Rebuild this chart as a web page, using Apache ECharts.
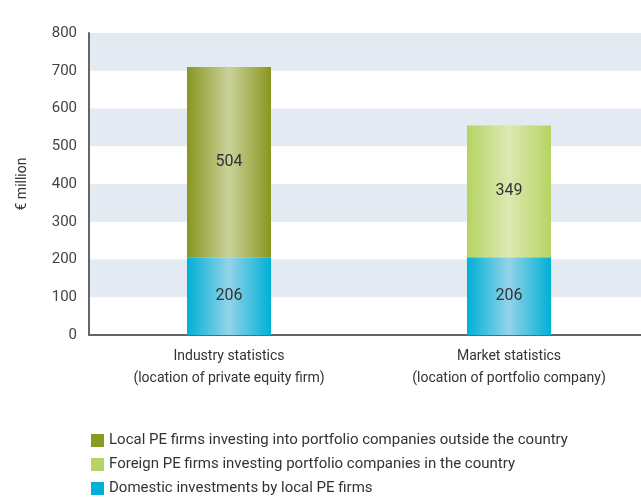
<!DOCTYPE html>
<html>
<head>
<meta charset="utf-8">
<script src="https://cdn.jsdelivr.net/npm/echarts@6/dist/echarts.min.js"></script>
<style>
  html, body { margin: 0; padding: 0; background: #fff; }
  #chart { width: 641px; height: 504px; }
</style>
</head>
<body>
<div id="chart"></div>
<script>
const categories = [
  "Industry statistics\n(location of private equity firm)",
  "Market statistics\n(location of portfolio company)"
];
const domestic = [206, 206];
const localOutside = [504, "-"];
const foreignIn = ["-", 349];
const yTicks = [0, 100, 200, 300, 400, 500, 600, 700, 800];

const FONT = "'Liberation Sans Narrow', 'Roboto', sans-serif";

// horizontal gradient: darker edges, pale centre (cylinder look)
function tube(edge, mid) {
  return new echarts.graphic.LinearGradient(0, 0, 1, 0, [
    { offset: 0, color: edge },
    { offset: 0.5, color: mid },
    { offset: 1, color: edge }
  ]);
}

const chart = echarts.init(document.getElementById("chart"));
const labelStyle = { show: true, position: "inside", color: "#333", fontSize: 16, fontFamily: FONT };

const option = {
  animation: false,
  grid: { left: 89, width: 560, top: 33, bottom: 169, outerBoundsMode: "none" },
  legend: {
    orient: "vertical",
    left: 86,
    top: 428,
    height: 90,
    itemWidth: 13,
    itemHeight: 13,
    itemGap: 9,
    icon: "rect",
    textStyle: { color: "#333", fontSize: 15, fontFamily: FONT },
    data: [
      { name: "Local PE firms investing into portfolio companies outside the country", itemStyle: { color: "#8a9a1e" } },
      { name: "Foreign PE firms investing portfolio companies in the country", itemStyle: { color: "#b5d465" } },
      { name: "Domestic investments by local PE firms", itemStyle: { color: "#00b0d8" } }
    ]
  },
  xAxis: {
    type: "category",
    data: categories,
    axisLine: { lineStyle: { color: "#666", width: 2 } },
    axisTick: { show: false },
    axisLabel: { color: "#333", fontSize: 14, lineHeight: 22, margin: 10, fontFamily: FONT }
  },
  yAxis: {
    type: "value",
    min: 0,
    max: 800,
    interval: 100,
    name: "€ million",
    nameLocation: "middle",
    nameRotate: 90,
    nameGap: 60,
    nameTextStyle: { color: "#333", fontSize: 14, fontFamily: FONT },
    axisLine: { show: true, lineStyle: { color: "#666", width: 2 } },
    axisTick: { show: false },
    splitLine: { show: false },
    splitArea: { show: true, areaStyle: { color: ["rgba(255,255,255,0)", "#e4eaf2"] } },
    axisLabel: {
      color: "#444", fontSize: 15, margin: 12, fontFamily: FONT,
      formatter: v => yTicks.includes(v) ? String(v) : ""
    }
  },
  series: [
    {
      name: "Domestic investments by local PE firms",
      type: "bar", stack: "t", barWidth: 84,
      data: domestic,
      itemStyle: { color: tube("#00b0d6", "#93d3e8") },
      label: labelStyle
    },
    {
      name: "Local PE firms investing into portfolio companies outside the country",
      type: "bar", stack: "t", barWidth: 84,
      data: localOutside,
      itemStyle: { color: tube("#8a9620", "#c9d29a") },
      label: labelStyle
    },
    {
      name: "Foreign PE firms investing portfolio companies in the country",
      type: "bar", stack: "t", barWidth: 84,
      data: foreignIn,
      itemStyle: { color: tube("#b5d462", "#dde9b2") },
      label: labelStyle
    }
  ]
};
chart.setOption(option);
window.addEventListener("resize", () => chart && chart.resize());
</script>
</body>
</html>
